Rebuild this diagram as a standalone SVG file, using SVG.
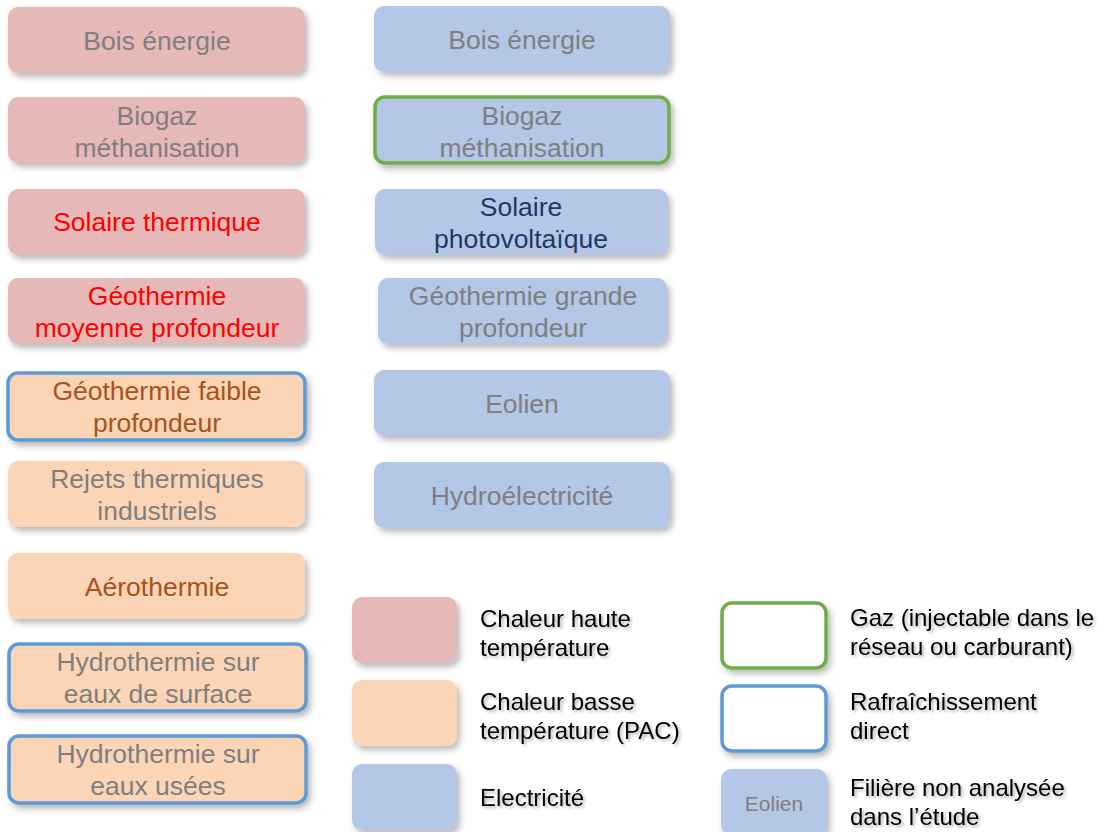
<svg xmlns="http://www.w3.org/2000/svg" width="1097" height="832" viewBox="0 0 1097 832">
<defs>
<filter id="sh" x="-10%" y="-20%" width="125%" height="150%">
<feDropShadow dx="3" dy="4" stdDeviation="3" flood-color="#000" flood-opacity="0.28"/>
</filter>
<filter id="tsh" x="-5%" y="-20%" width="115%" height="150%">
<feDropShadow dx="2" dy="2" stdDeviation="1.5" flood-color="#000" flood-opacity="0.3"/>
</filter>
</defs>
<style>
.b{filter:url(#sh)}
.hi{fill:#E6B9B8}
.lo{fill:#FBD5B6}
.el{fill:#B4C7E7}
.gz{stroke:#70AD47;stroke-width:3.5}
.rf{stroke:#5B9BD5;stroke-width:3.5}
.wh{fill:#ffffff}
text{font-family:"Liberation Sans",Arial,sans-serif;font-size:26.5px;text-anchor:middle}
.g{fill:#7F7F7F}
.r{fill:#FF0000}
.o{fill:#A9521C}
.n{fill:#1F3864}
.lg{font-size:24px;text-anchor:start;fill:#000;filter:url(#tsh)}
</style>
<rect width="1097" height="832" fill="#fff"/>

<g id="n-bois-h"><rect class="b hi" x="8" y="7" width="297" height="66" rx="10"/><text class="g" x="157" y="50">Bois énergie</text></g>
<g id="n-biogaz-h"><rect class="b hi" x="8" y="97" width="297" height="66" rx="10"/><text class="g" x="157" y="125">Biogaz</text><text class="g" x="157" y="157">méthanisation</text></g>
<g id="n-solaire-th"><rect class="b hi" x="8" y="189" width="297" height="66" rx="10"/><text class="r" x="157" y="231">Solaire thermique</text></g>
<g id="n-geo-moy"><rect class="b hi" x="8" y="278" width="297" height="66" rx="10"/><text class="r" x="157" y="305">Géothermie</text><text class="r" x="157" y="337">moyenne profondeur</text></g>
<g id="n-geo-faible"><rect class="b lo rf" x="8" y="373" width="297" height="67" rx="10"/><text class="o" x="157" y="400">Géothermie faible</text><text class="o" x="157" y="432">profondeur</text></g>
<g id="n-rejets"><rect class="b lo" x="8" y="461" width="297" height="66" rx="10"/><text class="g" x="157" y="488">Rejets thermiques</text><text class="g" x="157" y="520">industriels</text></g>
<g id="n-aero"><rect class="b lo" x="8" y="553" width="297" height="66" rx="10"/><text class="o" x="157" y="596">Aérothermie</text></g>
<g id="n-hydro-surf"><rect class="b lo rf" x="9" y="644" width="297" height="67" rx="10"/><text class="g" x="158" y="671">Hydrothermie sur</text><text class="g" x="158" y="703">eaux de surface</text></g>
<g id="n-hydro-usees"><rect class="b lo rf" x="9" y="736" width="297" height="67" rx="10"/><text class="g" x="158" y="763">Hydrothermie sur</text><text class="g" x="158" y="795">eaux usées</text></g>

<g id="n-bois-e"><rect class="b el" x="374" y="6" width="296" height="66" rx="10"/><text class="g" x="522" y="49">Bois énergie</text></g>
<g id="n-biogaz-e"><rect class="b el gz" x="375" y="97" width="294" height="66" rx="10"/><text class="g" x="522" y="125">Biogaz</text><text class="g" x="522" y="157">méthanisation</text></g>
<g id="n-pv"><rect class="b el" x="375" y="189" width="293" height="66" rx="10"/><text class="n" x="521" y="216">Solaire</text><text class="n" x="521" y="248">photovoltaïque</text></g>
<g id="n-geo-grande"><rect class="b el" x="378" y="278" width="289" height="66" rx="10"/><text class="g" x="523" y="305">Géothermie grande</text><text class="g" x="523" y="337">profondeur</text></g>
<g id="n-eolien"><rect class="b el" x="374" y="370" width="296" height="66" rx="10"/><text class="g" x="522" y="413">Eolien</text></g>
<g id="n-hydroelec"><rect class="b el" x="374" y="462" width="296" height="66" rx="10"/><text class="g" x="522" y="505">Hydroélectricité</text></g>

<g id="legend">
<g id="lg-haute"><rect class="b hi" x="352" y="597" width="105" height="66" rx="10"/><text class="lg" x="480" y="627">Chaleur haute</text><text class="lg" x="480" y="656">température</text></g>
<g id="lg-basse"><rect class="b lo" x="352" y="680" width="105" height="66" rx="10"/><text class="lg" x="480" y="710">Chaleur basse</text><text class="lg" x="480" y="739">température (PAC)</text></g>
<g id="lg-elec"><rect class="b el" x="352" y="764" width="105" height="66" rx="10"/><text class="lg" x="480" y="806">Electricité</text></g>
<g id="lg-gaz"><rect class="b wh gz" x="722" y="603" width="104" height="65" rx="10"/><text class="lg" x="850" y="626">Gaz (injectable dans le</text><text class="lg" x="850" y="655">réseau ou carburant)</text></g>
<g id="lg-rafr"><rect class="b wh rf" x="722" y="686" width="104" height="65" rx="10"/><text class="lg" x="850" y="710">Rafraîchissement</text><text class="lg" x="850" y="739">direct</text></g>
<g id="lg-nonan"><rect class="b el" x="721" y="769" width="106" height="66" rx="10"/><text class="g" x="774" y="811" style="font-size:21px">Eolien</text><text class="lg" x="850" y="796">Filière non analysée</text><text class="lg" x="850" y="825">dans l’étude</text></g>
</g>
<g id="connectors"/>
</svg>
